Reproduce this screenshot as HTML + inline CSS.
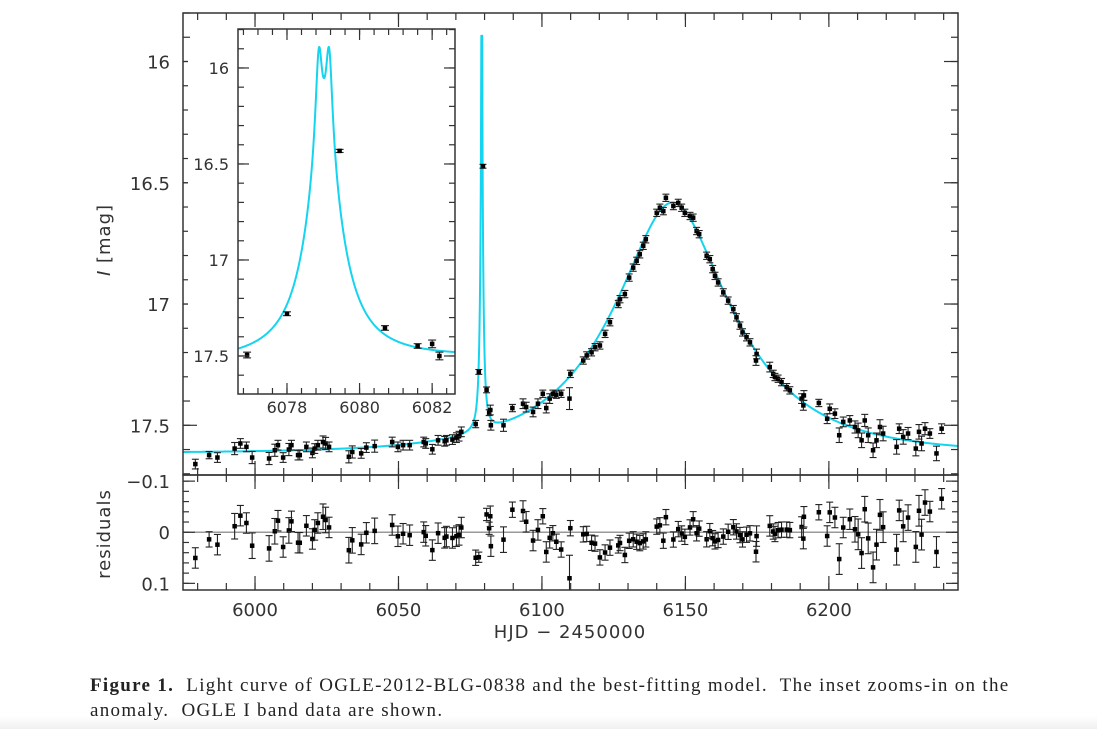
<!DOCTYPE html>
<html><head><meta charset="utf-8">
<style>
html,body{margin:0;padding:0;background:#fff;}
body{width:1097px;height:729px;overflow:hidden;position:relative;}
svg{position:absolute;left:0;top:0;}
.cap{position:absolute;left:90px;font-family:"Liberation Serif",serif;font-size:19px;color:#222;letter-spacing:1.3px;white-space:nowrap;}
</style></head>
<body>
<div style="position:absolute;left:0;top:716px;width:1097px;height:13px;background:linear-gradient(#fff,#f0f0f0);"></div>
<svg id="chart" width="1097" height="729" xmlns="http://www.w3.org/2000/svg"></svg>
<div class="cap" style="top:675px;"><b>Figure 1.</b>&nbsp; Light curve of OGLE-2012-BLG-0838 and the best-fitting model.&nbsp; The inset zooms-in on the</div>
<div class="cap" style="top:700px;">anomaly.&nbsp; OGLE I band data are shown.</div>
<script>
// ---- data ----
const times = [5979.2,5984.0,5986.9,5992.9,5994.9,5997.0,5999.0,6004.9,6006.9,6008.0,6009.8,6011.8,6012.7,6015.0,6015.6,6017.9,6020.0,6020.8,6021.9,6023.7,6024.6,6025.8,6032.7,6033.9,6037.0,6038.8,6041.7,6047.8,6049.8,6051.6,6053.9,6058.8,6059.5,6061.8,6063.8,6066.1,6066.7,6068.8,6070.2,6071.1,6071.9,6076.9,6078.0,6079.45,6080.7,6081.6,6082.0,6082.2,6086.6,6089.7,6093.4,6094.5,6096.9,6098.6,6100.3,6101.5,6102.7,6103.8,6105.0,6106.7,6109.6,6109.9,6114.4,6115.6,6117.3,6118.5,6120.2,6122.0,6123.7,6126.6,6127.2,6128.9,6130.4,6131.8,6133.0,6134.1,6135.3,6136.2,6140.0,6141.1,6142.3,6143.2,6145.8,6147.5,6148.7,6149.8,6151.6,6152.7,6153.9,6154.8,6157.4,6158.5,6159.5,6160.3,6161.4,6163.2,6164.9,6166.7,6167.8,6169.0,6169.9,6171.3,6172.5,6174.8,6174.6,6179.4,6180.6,6181.2,6182.3,6183.5,6185.3,6186.4,6190.5,6191.3,6191.1,6196.5,6199.4,6200.3,6202.1,6203.6,6205.0,6207.3,6209.1,6210.2,6211.4,6212.5,6213.7,6215.4,6216.6,6217.8,6218.9,6223.6,6224.5,6225.9,6227.6,6230.3,6231.4,6232.3,6233.5,6235.2,6237.5,6239.3];
const mags = [17.660,17.623,17.633,17.596,17.575,17.589,17.633,17.637,17.603,17.582,17.633,17.600,17.582,17.623,17.623,17.589,17.614,17.596,17.582,17.569,17.575,17.589,17.630,17.610,17.616,17.592,17.586,17.569,17.589,17.582,17.582,17.569,17.575,17.599,17.562,17.566,17.562,17.559,17.551,17.545,17.527,17.495,17.280,16.432,17.354,17.448,17.437,17.500,17.500,17.429,17.411,17.425,17.445,17.411,17.370,17.429,17.390,17.370,17.374,17.370,17.390,17.288,17.233,17.212,17.199,17.178,17.171,17.123,17.075,17.000,16.980,16.959,16.891,16.850,16.822,16.795,16.760,16.733,16.624,16.603,16.617,16.562,16.596,16.583,16.603,16.624,16.637,16.644,16.699,16.712,16.801,16.815,16.856,16.884,16.911,16.952,16.986,17.021,17.055,17.089,17.117,17.137,17.158,17.206,17.233,17.260,17.288,17.301,17.308,17.322,17.343,17.356,17.390,17.377,17.418,17.408,17.473,17.432,17.452,17.541,17.486,17.480,17.507,17.521,17.562,17.480,17.541,17.603,17.562,17.507,17.534,17.589,17.514,17.548,17.534,17.596,17.527,17.575,17.514,17.534,17.616,17.514];
const errs = [0.02,0.015,0.02,0.025,0.02,0.02,0.025,0.025,0.025,0.02,0.02,0.025,0.02,0.02,0.02,0.02,0.02,0.02,0.02,0.025,0.025,0.02,0.025,0.025,0.02,0.02,0.025,0.02,0.02,0.02,0.02,0.02,0.02,0.02,0.02,0.02,0.02,0.02,0.02,0.02,0.02,0.015,0.01,0.008,0.012,0.012,0.02,0.02,0.025,0.015,0.02,0.02,0.02,0.02,0.015,0.02,0.02,0.015,0.015,0.015,0.045,0.015,0.015,0.015,0.015,0.015,0.015,0.015,0.015,0.015,0.015,0.015,0.015,0.015,0.015,0.015,0.015,0.015,0.015,0.015,0.015,0.015,0.015,0.015,0.015,0.015,0.015,0.015,0.015,0.015,0.015,0.015,0.015,0.015,0.015,0.015,0.015,0.015,0.015,0.015,0.015,0.015,0.015,0.02,0.02,0.02,0.015,0.015,0.015,0.015,0.015,0.015,0.02,0.02,0.02,0.015,0.02,0.02,0.02,0.03,0.02,0.02,0.025,0.03,0.03,0.025,0.03,0.03,0.03,0.03,0.03,0.03,0.02,0.03,0.025,0.03,0.03,0.03,0.025,0.02,0.03,0.02];
// model parameters: [baseline mag, t0, u0, tE]
const pspl = [17.615, 6145.5, 0.41, 39];
// anomaly components: [height(flux), centre, width]
const anomaly = [[1.85,6079.02,0.45],[1.89,6078.88,0.1],[1.89,6079.16,0.1]];
const xTicksMain = [6000,6050,6100,6150,6200];
const yTicksMain = [16,16.5,17,17.5];
const yTicksRes = [-0.1,0,0.1];
const xTicksInset = [6078,6080,6082];
const yTicksInset = [16,16.5,17,17.5];

// ---- geometry ----
const M = {l:183,r:958,t:13,b:475};
const R = {t:475,b:590};
const I = {l:238,r:455,t:29,b:394};
const xd=[5974.9,6245.0], yd=[15.80,17.705], rd=[-0.112,0.113], ixd=[6076.65,6082.63], iyd=[15.797,17.698];
const X=t=>M.l+(t-xd[0])/(xd[1]-xd[0])*(M.r-M.l);
const Y=m=>M.t+(m-yd[0])/(yd[1]-yd[0])*(M.b-M.t);
const YR=v=>R.t+(v-rd[0])/(rd[1]-rd[0])*(R.b-R.t);
const IX=t=>I.l+(t-ixd[0])/(ixd[1]-ixd[0])*(I.r-I.l);
const IY=m=>I.t+(m-iyd[0])/(iyd[1]-iyd[0])*(I.b-I.t);

function model(t){
  const [mb,t0,u0,tE]=pspl;
  const tau=(t-t0)/tE, u2=u0*u0+tau*tau, u=Math.sqrt(u2);
  let A=(u2+2)/(u*Math.sqrt(u2+4));
  anomaly.forEach(a=>{const z=(t-a[1])/a[2];A+=a[0]/(1+z*z);});
  return mb-2.5*Math.log10(A);
}

const NS="http://www.w3.org/2000/svg";
const svg=document.getElementById('chart');
function mk(tag,attrs,parent){const e=document.createElementNS(NS,tag);for(const k in attrs)e.setAttribute(k,attrs[k]);(parent||svg).appendChild(e);return e;}
const FONT='"DejaVu Sans","Liberation Sans",sans-serif';

const defs=mk('defs',{});
const c1=mk('clipPath',{id:'cm'},defs);mk('rect',{x:M.l,y:M.t,width:M.r-M.l,height:M.b-M.t},c1);
const c2=mk('clipPath',{id:'cr'},defs);mk('rect',{x:M.l,y:R.t,width:M.r-M.l,height:R.b-R.t},c2);
const c3=mk('clipPath',{id:'ci'},defs);mk('rect',{x:I.l,y:I.t,width:I.r-I.l,height:I.b-I.t},c3);

const zl=mk('line',{x1:M.l,x2:M.r,y1:YR(0),y2:YR(0),stroke:'#999','stroke-width':1.6});



let dMain='';{const pts=[];for(let t=xd[0];t<6074;t+=0.5)pts.push(t);for(let t=6074;t<6086;t+=0.01)pts.push(t);for(let t=6086;t<=xd[1];t+=0.5)pts.push(t);
pts.forEach((t,i)=>{dMain+=(i?'L':'M')+X(t).toFixed(2)+','+Y(model(t)).toFixed(2);});}
const mc=mk('path',{d:dMain,fill:'none',stroke:'#14d4f0','stroke-width':2,'clip-path':'url(#cm)'});



const gData=mk('g',{'clip-path':'url(#cm)'});


const gRes=mk('g',{'clip-path':'url(#cr)'});


function point(g,x,y,y1,y2,cap,sz){
  mk('line',{x1:x,x2:x,y1:y1,y2:y2,stroke:'#222','stroke-width':1.1},g);
  mk('line',{x1:x-cap,x2:x+cap,y1:y1,y2:y1,stroke:'#222','stroke-width':1.1},g);
  mk('line',{x1:x-cap,x2:x+cap,y1:y2,y2:y2,stroke:'#222','stroke-width':1.1},g);
  const r=mk('rect',{x:x-sz/2,y:y-sz/2,width:sz,height:sz,fill:'#000'},g);
  
  
}
times.forEach((t,i)=>{
  const m=mags[i],e=errs[i];
  point(gData,X(t),Y(m),Y(m-e),Y(m+e),3.5,4.5);
  const res=m-model(t);
  point(gRes,X(t),YR(res),YR(res-e),YR(res+e),3.5,4.5);
});

function frame(name,x0,y0,x1,y1){const f=mk('rect',{x:x0,y:y0,width:x1-x0,height:y1-y0,fill:'none',stroke:'#333','stroke-width':1.5});}
function xTicks(fx,a,b,step,yTop,yBot,len){for(let v=a;v<=b+1e-9;v+=step){const x=fx(v);mk('line',{x1:x,x2:x,y1:yBot,y2:yBot-len,stroke:'#333','stroke-width':1.2});mk('line',{x1:x,x2:x,y1:yTop,y2:yTop+len,stroke:'#333','stroke-width':1.2});}}
function yTicks(fy,a,b,step,x0,x1,len){for(let v=a;v<=b+1e-9;v+=step){const y=fy(v);mk('line',{x1:x0,x2:x0+len,y1:y,y2:y,stroke:'#333','stroke-width':1.2});mk('line',{x1:x1,x2:x1-len,y1:y,y2:y,stroke:'#333','stroke-width':1.2});}}
frame('main-panel-frame',M.l,M.t,M.r,M.b);
frame('residual-panel-frame',M.l,R.t,M.r,R.b);
xTicks(X,5980,6240,10,M.t,M.b,7);xTicks(X,6000,6200,50,M.t,M.b,14);
xTicks(X,5980,6240,10,R.t,R.b,7);xTicks(X,6000,6200,50,R.t,R.b,14);
yTicks(Y,15.8,17.7,0.1,M.l,M.r,7);yTicks(Y,16,17.5,0.5,M.l,M.r,14);
yTicks(YR,-0.1,0.1,0.02,M.l,M.r,6);yTicks(YR,-0.1,0.1,0.1,M.l,M.r,12);

function txt(s,x,y,anchor,size,name,extra){const e=mk('text',Object.assign({x:x,y:y,'text-anchor':anchor,'font-family':FONT,'font-size':size,fill:'#333'},extra||{}));e.textContent=s;return e;}
xTicksMain.forEach(v=>txt(String(v),X(v),616,'middle',18,'x-tick-label'));
yTicksMain.forEach(v=>txt(String(v),170,Y(v)+7,'end',18,'y-tick-label'));
yTicksRes.forEach(v=>txt(v===0?'0':(v<0?'\u22120.1':'0.1'),170,YR(v)+7,'end',18,'residual-tick-label'));
txt('HJD \u2212 2450000',570,638,'middle',18,'x-axis-title',{'letter-spacing':'1'});
const yl=txt('',110,240,'middle',18,'y-axis-title',{transform:'rotate(-90 110 240)','letter-spacing':'1'});
yl.innerHTML='<tspan font-style="italic">I</tspan>  [mag]';
txt('residuals',110,534,'middle',18,'residual-axis-title',{transform:'rotate(-90 110 534)','letter-spacing':'1'});

// inset
const ib=mk('rect',{x:I.l,y:I.t,width:I.r-I.l,height:I.b-I.t,fill:'#fff'});


let dIn='';for(let i=0;i<=1500;i++){const t=ixd[0]+(ixd[1]-ixd[0])*i/1500;dIn+=(i?'L':'M')+IX(t).toFixed(2)+','+IY(model(t)).toFixed(2);}
const ic=mk('path',{d:dIn,fill:'none',stroke:'#14d4f0','stroke-width':2,'clip-path':'url(#ci)'});


const gIn=mk('g',{'clip-path':'url(#ci)'});


times.forEach((t,i)=>{if(t>=ixd[0]&&t<=ixd[1]){const m=mags[i],e=errs[i];point(gIn,IX(t),IY(m),IY(m-e),IY(m+e),4,4.5);}});
frame('inset-frame',I.l,I.t,I.r,I.b);
xTicks(IX,6076.8,6082.6,0.4,I.t,I.b,6);xTicks(IX,6078,6082,2,I.t,I.b,11);
yTicks(IY,15.8,17.6,0.1,I.l,I.r,6);yTicks(IY,16,17.5,0.5,I.l,I.r,11);
const iyl=mk('rect',{x:188,y:I.t+10,width:44,height:I.b-I.t-20,fill:'#fff'});


xTicksInset.forEach(v=>txt(String(v),IX(v),413,'middle',16,'inset-x-tick-label'));
yTicksInset.forEach(v=>txt(String(v),229,IY(v)+6,'end',16,'inset-y-tick-label'));
</script>
</body></html>
